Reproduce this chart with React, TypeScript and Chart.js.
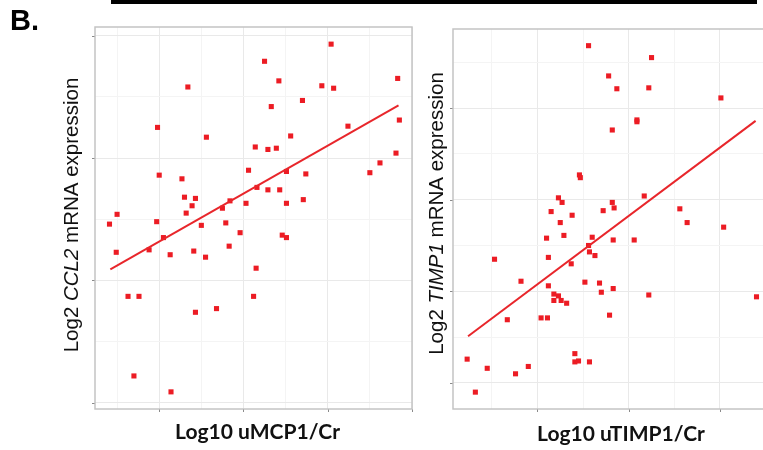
import React, { useEffect, useRef } from 'react';
import { Chart, registerables } from 'chart.js';

Chart.register(...registerables);

// ---------- Data ----------
// Left panel: Log10 uMCP1/Cr vs Log2 CCL2 mRNA expression
const ccl2X = [1.34, 0.98, 1.56, 2.14, 1.00, 1.27, 2.06, 1.30, 1.43, 1.39, 1.32, 0.50, 1.84, 1.75, 2.03, 2.16, 3.04, 2.25, 2.42, 3.83, 2.93, 3.07, 2.70, 2.33, 3.85, 3.24, 2.56, 2.29, 2.39, 3.81, 3.62, 3.50, 2.51, 2.74, 2.29, 2.43, 2.51, 2.71, 0.41, 0.97, 1.50, 1.79, 1.96, 1.05, 0.88, 0.49, 1.13, 1.41, 1.55, 1.83, 2.15, 0.63, 0.76, 1.43, 1.68, 2.12, 0.70, 1.14, 2.46, 2.51];
const ccl2Y = [2.58, 2.25, 2.17, 2.09, 1.86, 1.83, 1.90, 1.68, 1.67, 1.61, 1.55, 1.54, 1.65, 1.59, 1.63, 1.76, 2.93, 2.79, 2.63, 2.65, 2.59, 2.57, 2.47, 2.42, 2.31, 2.26, 2.18, 2.07, 2.08, 2.04, 1.96, 1.88, 1.89, 1.87, 1.74, 1.74, 1.63, 1.66, 1.46, 1.48, 1.45, 1.47, 1.39, 1.35, 1.25, 1.23, 1.21, 1.24, 1.19, 1.28, 1.10, 0.87, 0.87, 0.74, 0.77, 0.87, 0.22, 0.09, 1.37, 1.35];
const ccl2FitX = [0.42, 3.84];
const ccl2FitY = [1.09, 2.43];
const ccl2GridX = [0.5, 1, 1.5, 2, 2.5, 3, 3.5, 4];
const ccl2GridY = [0, 0.5, 1, 1.5, 2, 2.5, 3];

// Right panel: Log10 uTIMP1/Cr vs Log2 TIMP1 mRNA expression
const timp1X = [1.56, 2.25, 1.78, 1.87, 2.22, 3.01, 2.09, 2.09, 1.82, 1.46, 1.47, 1.23, 1.27, 1.15, 1.38, 1.72, 1.82, 1.84, 2.17, 2.56, 2.64, 3.04, 1.25, 1.29, 1.10, 1.83, 2.06, 1.60, 1.56, 1.57, 1.63, 0.53, 1.12, 1.37, 0.82, 1.12, 1.52, 1.68, 1.70, 1.83, 2.22, 3.40, 1.18, 1.23, 1.18, 1.26, 1.32, 1.79, 0.67, 1.04, 1.11, 1.41, 1.41, 1.45, 1.57, 0.23, 0.45, 0.76, 0.90, 0.32];
const timp1Y = [3.68, 3.55, 3.35, 3.21, 3.22, 3.11, 2.87, 2.85, 2.76, 2.27, 2.24, 2.02, 1.97, 1.87, 1.83, 1.88, 1.97, 1.91, 2.04, 1.90, 1.75, 1.70, 1.75, 1.61, 1.58, 1.56, 1.56, 1.59, 1.50, 1.43, 1.39, 1.35, 1.37, 1.30, 1.11, 1.06, 1.10, 1.09, 0.99, 1.03, 0.96, 0.94, 0.97, 0.95, 0.90, 0.90, 0.87, 0.74, 0.69, 0.71, 0.71, 0.32, 0.23, 0.24, 0.23, 0.26, 0.16, 0.10, 0.18, -0.10];
const timp1FitX = [0.24, 3.39];
const timp1FitY = [0.51, 2.86];
const timp1GridX = [0.5, 1, 1.5, 2, 2.5, 3, 3.5];
const timp1GridY = [0, 0.5, 1, 1.5, 2, 2.5, 3, 3.5];

// Text
const panelLabel = 'B.';
const ccl2YTitle = [
  { text: 'Log2 ', italic: false },
  { text: 'CCL2', italic: true },
  { text: ' mRNA expression', italic: false },
];
const ccl2XTitle = 'Log10 uMCP1/Cr';
const timp1YTitle = [
  { text: 'Log2 ', italic: false },
  { text: 'TIMP1', italic: true },
  { text: ' mRNA expression', italic: false },
];
const timp1XTitle = 'Log10 uTIMP1/Cr';

type Part = { text: string; italic: boolean };

interface PanelProps {
  left: number;
  width: number;
  height: number;
  padding: { left: number; top: number; right: number; bottom: number };
  xMin: number; xMax: number; yMin: number; yMax: number;
  gridX: number[]; gridY: number[];
  xs: number[]; ys: number[];
  fitX: number[]; fitY: number[];
  yTitle: Part[]; yTitleBaseX: number; yTitleCenterY: number;
  xTitle: string; xTitleCenterX: number; xTitleBaseY: number; xTitleWidth: number;
  label?: string;
}

const isMajor = (v: number) => Math.abs(v - Math.round(v)) < 1e-6;

function Panel(p: PanelProps) {
  const ref = useRef<HTMLCanvasElement>(null);
  useEffect(() => {
    const canvas = ref.current as HTMLCanvasElement;
    const decor = {
      id: 'decor',
      afterDraw(chart: any) {
        const ctx: CanvasRenderingContext2D = chart.ctx;
        const a = chart.chartArea;
        const sx = chart.scales.x;
        const sy = chart.scales.y;
        ctx.save();
        // frame
        ctx.strokeStyle = '#c4c4c4';
        ctx.lineWidth = 1.5;
        ctx.strokeRect(a.left, a.top, a.right - a.left, a.bottom - a.top);
        // tick marks
        ctx.strokeStyle = '#8a8a8a';
        ctx.lineWidth = 1;
        ctx.beginPath();
        p.gridY.filter(isMajor).forEach((v) => {
          const y = Math.round(sy.getPixelForValue(v)) + 0.5;
          ctx.moveTo(a.left - 3, y);
          ctx.lineTo(a.left - 0.5, y);
        });
        p.gridX.filter(isMajor).forEach((v) => {
          const x = Math.round(sx.getPixelForValue(v)) + 0.5;
          ctx.moveTo(x, a.bottom + 0.5);
          ctx.lineTo(x, a.bottom + 3);
        });
        ctx.stroke();

        // y title (rotated, mixed italic)
        ctx.save();
        ctx.translate(p.yTitleBaseX, p.yTitleCenterY);
        ctx.rotate(-Math.PI / 2);
        ctx.fillStyle = '#111111';
        ctx.textAlign = 'left';
        ctx.textBaseline = 'alphabetic';
        const fontFor = (it: boolean) => `${it ? 'italic ' : ''}20.5px "Liberation Sans", Arial, sans-serif`;
        const widths = p.yTitle.map((part) => {
          ctx.font = fontFor(part.italic);
          return ctx.measureText(part.text).width;
        });
        const total = widths.reduce((s, w) => s + w, 0);
        let cx = -total / 2;
        p.yTitle.forEach((part, i) => {
          ctx.font = fontFor(part.italic);
          ctx.fillText(part.text, cx, 0);
          cx += widths[i];
        });
        ctx.restore();

        // x title (bold, fitted to width)
        ctx.fillStyle = '#111111';
        ctx.textAlign = 'center';
        ctx.textBaseline = 'alphabetic';
        ctx.font = 'bold 20px Lato, "Liberation Sans", sans-serif';
        const w = ctx.measureText(p.xTitle).width;
        const size = (20 * p.xTitleWidth) / w;
        ctx.font = `bold ${size.toFixed(2)}px Lato, "Liberation Sans", sans-serif`;
        ctx.fillText(p.xTitle, p.xTitleCenterX, p.xTitleBaseY);

        if (p.label) {
          ctx.fillStyle = '#000000';
          ctx.textAlign = 'left';
          ctx.font = 'bold 29px "Liberation Sans", Arial, sans-serif';
          ctx.fillText(p.label, 10, 30);
        }
        ctx.restore();
      },
    };

    const gridColor = (c: any) => (c.tick && isMajor(c.tick.value) ? '#e9e9e9' : '#f4f4f4');

    const chart = new Chart(canvas, {
      type: 'scatter',
      data: {
        datasets: [
          {
            type: 'line',
            data: p.fitX.map((x, i) => ({ x, y: p.fitY[i] })),
            borderColor: '#e8262b',
            borderWidth: 2,
            pointRadius: 0,
            fill: false,
            tension: 0,
            order: 0,
          } as any,
          {
            type: 'scatter',
            data: p.xs.map((x, i) => ({ x, y: p.ys[i] })),
            pointStyle: 'rect',
            pointRadius: 3.6,
            backgroundColor: '#ec1c24',
            borderWidth: 0,
            order: 1,
          } as any,
        ],
      },
      options: {
        responsive: false,
        animation: false,
        events: [],
        devicePixelRatio: 1,
        layout: { padding: p.padding },
        plugins: { legend: { display: false }, tooltip: { enabled: false }, title: { display: false } },
        scales: {
          x: {
            type: 'linear',
            min: p.xMin,
            max: p.xMax,
            bounds: 'data',
            afterBuildTicks: (s: any) => { s.ticks = p.gridX.map((v) => ({ value: v })); },
            ticks: { display: false },
            grid: { color: gridColor, drawTicks: false, lineWidth: 1 },
            border: { display: false },
          },
          y: {
            type: 'linear',
            min: p.yMin,
            max: p.yMax,
            bounds: 'data',
            afterBuildTicks: (s: any) => { s.ticks = p.gridY.map((v) => ({ value: v })); },
            ticks: { display: false },
            grid: { color: gridColor, drawTicks: false, lineWidth: 1 },
            border: { display: false },
          },
        },
      } as any,
      plugins: [decor],
    });
    return () => chart.destroy();
  }, []);
  return (
    <canvas
      ref={ref}
      width={p.width}
      height={p.height}
      style={{ position: 'absolute', left: p.left, top: 0, width: p.width, height: p.height, display: 'block' }}
    />
  );
}

export default function App() {
  return (
    <div style={{ position: 'fixed', left: 0, top: 0, width: 763, height: 450, overflow: 'hidden', background: '#ffffff' }}>
      <div style={{ position: 'absolute', left: 111, top: 0, width: 646, height: 4, background: '#000000' }} />
      <Panel
        left={0}
        width={420}
        height={450}
        padding={{ left: 95, top: 27, right: 8, bottom: 41 }}
        xMin={0.238}
        xMax={4.0}
        yMin={-0.05}
        yMax={3.07}
        gridX={ccl2GridX}
        gridY={ccl2GridY}
        xs={ccl2X}
        ys={ccl2Y}
        fitX={ccl2FitX}
        fitY={ccl2FitY}
        yTitle={ccl2YTitle}
        yTitleBaseX={77.5}
        yTitleCenterY={215}
        xTitle={ccl2XTitle}
        xTitleCenterX={257.5}
        xTitleBaseY={438.5}
        xTitleWidth={165}
        label={panelLabel}
      />
      <Panel
        left={420}
        width={380}
        height={450}
        padding={{ left: 33, top: 29, right: 11, bottom: 41 }}
        xMin={0.075}
        xMax={3.756}
        yMin={-0.284}
        yMax={3.862}
        gridX={timp1GridX}
        gridY={timp1GridY}
        xs={timp1X}
        ys={timp1Y}
        fitX={timp1FitX}
        fitY={timp1FitY}
        yTitle={timp1YTitle}
        yTitleBaseX={23}
        yTitleCenterY={213.5}
        xTitle={timp1XTitle}
        xTitleCenterX={201}
        xTitleBaseY={440.5}
        xTitleWidth={168}
      />
    </div>
  );
}
